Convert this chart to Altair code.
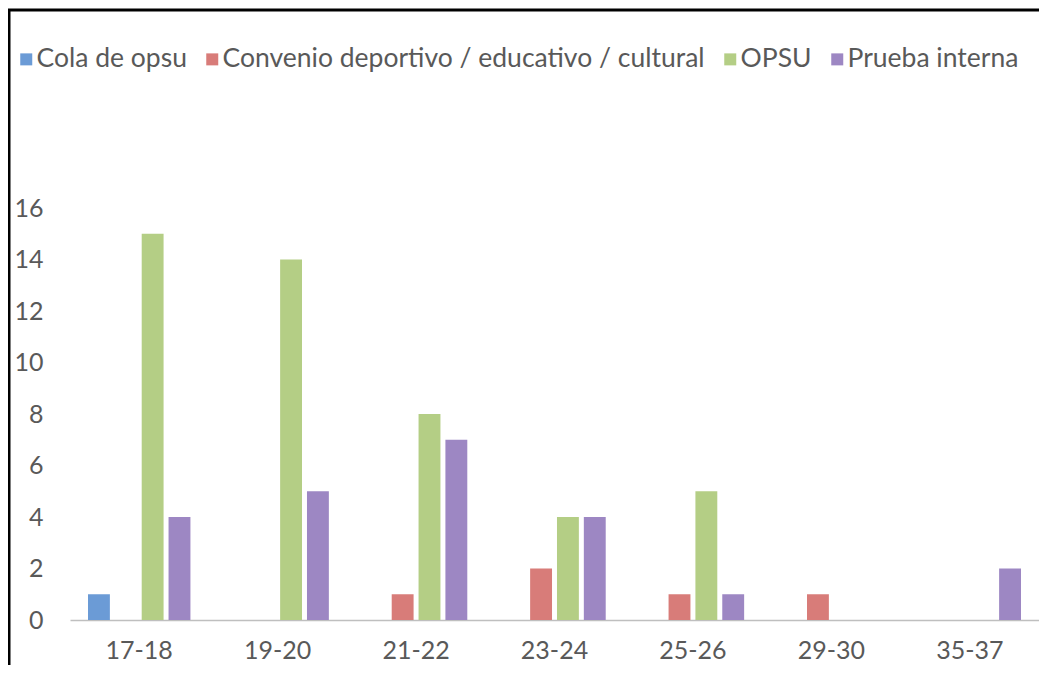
import altair as alt
import pandas as pd

categories = ["17-18", "19-20", "21-22", "23-24", "25-26", "29-30", "35-37"]
series = ["Cola de opsu", "Convenio deportivo / educativo / cultural", "OPSU", "Prueba interna"]
cola = [1, None, None, None, None, None, None]
convenio = [None, None, 1, 2, 1, 1, None]
opsu = [15, 14, 8, 4, 5, None, None]
prueba = [4, 5, 7, 4, 1, None, 2]
colors = ["#6b9bd6", "#d87c79", "#b4ce85", "#9d87c3"]
y_ticks = [0, 2, 4, 6, 8, 10, 12, 14, 16]

rows = []
for s, vals in zip(series, [cola, convenio, opsu, prueba]):
    for c, v in zip(categories, vals):
        if v is not None:
            rows.append({"edad": c, "serie": s, "valor": v})
df = pd.DataFrame(rows)

W, H = 969, 412
FONT = "Lato"
TXT = "#595959"

bars = alt.Chart(df).mark_bar(stroke=None).encode(
    x=alt.X("edad:N", sort=categories,
            scale=alt.Scale(domain=categories, paddingInner=0.26, paddingOuter=0.13),
            axis=alt.Axis(title=None, labelAngle=0, ticks=False, grid=False,
                          domain=True, domainColor="#bfbfbf", domainWidth=1.5,
                          labelPadding=18, labelFontSize=25, labelColor=TXT,
                          labelFont=FONT)),
    xOffset=alt.XOffset("serie:N", scale=alt.Scale(domain=series, paddingInner=0.185)),
    y=alt.Y("valor:Q", scale=alt.Scale(domain=[0, 16]),
            axis=alt.Axis(title=None, values=y_ticks, ticks=False, grid=False,
                          domain=False, labelPadding=27, labelFontSize=25,
                          labelColor=TXT, labelFont=FONT)),
    color=alt.Color("serie:N", scale=alt.Scale(domain=series, range=colors),
                    legend=alt.Legend(title=None, orient="none", legendX=-57, legendY=-162,
                                      direction="horizontal", symbolType="square",
                                      symbolSize=144, symbolStrokeWidth=0,
                                      labelFontSize=26.5, labelColor=TXT, labelFont=FONT,
                                      labelLimit=0, columnPadding=12,
                                      labelOffset={"expr": "-3"})),
)

frame_data = alt.Data(values=[{"k": 1}])
left_line = alt.Chart(frame_data).mark_rule(color="black", strokeWidth=3).encode(
    x=alt.value(-61), y=alt.value(-198), y2=alt.value(H + 80))
top_line = alt.Chart(frame_data).mark_rule(color="black", strokeWidth=3).encode(
    x=alt.value(-62), x2=alt.value(W + 60), y=alt.value(-198))

chart = alt.layer(left_line, top_line, bars).properties(
    width=W, height=H,
    padding={"left": 62, "top": 200, "right": 0, "bottom": 45},
    autosize=alt.AutoSizeParams(type="none"),
).configure_view(stroke=None)

chart.save("out.html", embed_options={"renderer": "svg", "actions": False})
